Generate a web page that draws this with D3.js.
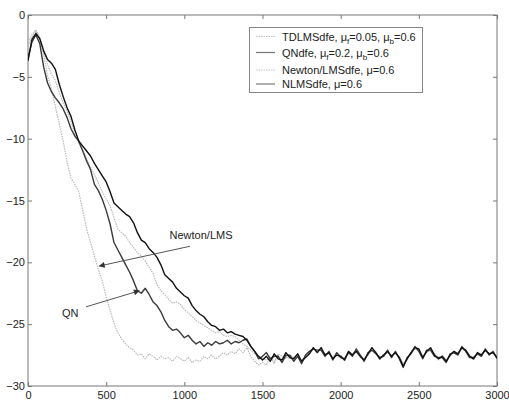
<!DOCTYPE html>
<html><head><meta charset="utf-8">
<script src="https://cdn.jsdelivr.net/npm/d3@7/dist/d3.min.js"></script>
<style>
html,body{margin:0;padding:0;background:#fff;}
svg{display:block;font-family:"Liberation Sans",Arial,sans-serif;}
</style></head>
<body><svg id="c" width="509" height="403"></svg>
<script>
// iteration index of each sample
const iterations = d3.range(0, 3001, 25);
const xTicks = [0, 500, 1000, 1500, 2000, 2500, 3000];
const yTicks = [0, -5, -10, -15, -20, -25, -30];

// Newton/LMSdfe (fastest, light dotted)
const newtonLMS = [
 -2.5,-1.8,-1.3,-2.0,-3.2,-4.9,-6.0,-7.4,-8.8,-10.2,
 -11.9,-13.2,-13.7,-14.3,-15.8,-17.3,-18.4,-19.5,-20.6,-21.5,
 -22.8,-23.9,-24.9,-25.7,-26.2,-26.6,-26.9,-27.1,-27.5,-27.4,
 -27.8,-27.4,-27.6,-27.9,-27.6,-27.8,-27.7,-28.0,-27.6,-27.8,
 -28.0,-27.7,-28.1,-27.9,-28.0,-27.6,-27.8,-27.5,-27.8,-27.6,
 -27.3,-27.5,-27.2,-27.4,-27.0,-27.3,-26.9,-27.6,-28.0,-28.3,
 -28.1,
 -28.3,-27.6,-28.0,-27.5,-27.9,-27.6,-27.8,-27.7,-27.4,-28.0,
 -27.7,-27.4,-27.0,-27.3,-27.1,-27.4,-27.4,-27.7,-27.5,-27.5,
 -28.0,-27.3,-27.4,-27.2,-27.7,-27.8,-27.5,-27.1,-27.2,-27.9,
 -27.4,-27.3,-27.5,-27.4,-27.6,-28.3,-27.9,-27.2,-27.0,-27.2,
 -27.6,-27.3,-27.1,-27.4,-27.9,-27.5,-27.9,-27.6,-27.3,-27.3,
 -27.0,-27.2,-27.5,-27.9,-27.4,-27.4,-27.2,-27.3,-27.4,-27.6
];
// QNdfe (dark grey solid)
const qn = [
 -3.5,-2.2,-1.6,-2.3,-4.2,-5.5,-6.2,-6.7,-7.1,-7.6,
 -8.3,-9.2,-9.8,-10.2,-11.0,-11.8,-12.5,-13.7,-14.2,-14.9,
 -15.8,-16.9,-18.4,-19.0,-19.6,-20.2,-20.8,-21.5,-22.3,-22.5,
 -22.1,-22.6,-23.2,-23.5,-24.0,-24.7,-25.2,-25.5,-25.4,-25.7,
 -26.1,-25.9,-26.3,-26.6,-26.4,-26.8,-26.5,-26.7,-26.4,-26.6,
 -26.5,-26.3,-26.6,-26.4,-26.5,-26.3,-26.2,-26.8,-27.2,-27.8,
 -27.6,
 -27.3,-27.8,-27.6,-27.6,-28.1,-27.5,-27.5,-28.0,-27.6,-28.2,
 -27.5,-27.2,-27.0,-27.1,-27.1,-27.6,-27.2,-27.9,-27.3,-27.7,
 -27.8,-27.3,-27.6,-27.0,-27.5,-28.0,-27.3,-27.1,-27.4,-27.7,
 -27.6,-27.1,-27.7,-27.2,-27.8,-28.5,-27.7,-27.4,-26.8,-27.2,
 -27.8,-27.1,-27.1,-27.6,-27.7,-27.7,-28.1,-27.4,-27.3,-27.5,
 -26.8,-27.2,-27.7,-27.7,-27.4,-27.6,-27.0,-27.5,-27.2,-27.8
];
// TDLMSdfe (light dotted, middle)
const tdlms = [
 -2.2,-1.6,-1.2,-1.8,-2.8,-4.0,-4.8,-5.3,-6.3,-7.1,
 -7.8,-8.6,-9.6,-10.4,-10.9,-11.6,-12.3,-12.9,-13.6,-14.3,
 -14.9,-15.4,-16.4,-17.3,-17.6,-17.9,-18.4,-18.8,-19.2,-19.5,
 -19.9,-20.4,-20.9,-21.8,-22.3,-22.6,-23.0,-23.3,-23.2,-23.4,
 -23.8,-24.1,-24.4,-24.7,-24.9,-25.1,-25.3,-25.5,-25.7,-25.6,
 -25.9,-26.0,-25.9,-26.0,-26.3,-26.6,-26.8,-27.1,-27.4,-27.6,
 -27.8,
 -27.9,-27.7,-28.2,-27.4,-27.6,-27.8,-27.5,-27.7,-27.6,-27.9,
 -27.6,-27.3,-27.0,-27.2,-27.0,-27.4,-27.3,-27.7,-27.3,-27.6,
 -27.8,-27.3,-27.4,-27.1,-27.5,-27.8,-27.5,-27.0,-27.3,-27.7,
 -27.5,-27.3,-27.5,-27.3,-27.6,-28.2,-27.8,-27.4,-27.0,-27.1,
 -27.6,-27.3,-27.0,-27.4,-27.7,-27.6,-27.9,-27.5,-27.3,-27.4,
 -27.0,-27.1,-27.5,-27.7,-27.4,-27.5,-27.1,-27.4,-27.3,-27.6
];
// NLMSdfe (black solid, slowest)
const nlms = [
 -3.7,-2.0,-1.5,-1.9,-2.9,-3.6,-3.9,-4.4,-5.6,-6.6,
 -7.5,-8.2,-9.3,-10.2,-10.6,-11.0,-11.4,-12.0,-12.5,-13.0,
 -13.5,-14.3,-15.2,-15.5,-15.8,-16.1,-16.3,-16.8,-17.6,-18.2,
 -18.4,-18.9,-19.2,-19.6,-20.2,-21.0,-21.3,-21.6,-22.1,-22.4,
 -22.7,-22.9,-23.5,-23.9,-24.2,-24.4,-24.8,-25.1,-25.2,-25.5,
 -25.4,-25.7,-25.6,-25.8,-25.9,-26.0,-26.3,-26.8,-27.2,-27.6,
 -27.9,
 -27.6,-28.0,-27.4,-27.8,-27.9,-27.3,-27.7,-27.8,-27.4,-28.0,
 -27.7,-27.4,-26.9,-27.3,-26.9,-27.5,-27.3,-27.8,-27.5,-27.6,
 -27.9,-27.2,-27.5,-27.2,-27.6,-27.9,-27.4,-26.9,-27.3,-27.8,
 -27.5,-27.2,-27.6,-27.3,-27.7,-28.4,-27.8,-27.3,-26.9,-27.0,
 -27.7,-27.2,-26.9,-27.5,-27.8,-27.6,-28.0,-27.5,-27.2,-27.4,
 -26.9,-27.1,-27.6,-27.8,-27.3,-27.5,-27.1,-27.4,-27.3,-27.7
];

const seriesNames = ["TDLMSdfe", "QNdfe", "Newton/LMSdfe", "NLMSdfe"];

const svg = d3.select("#c");
const m = {l: 28, t: 15, r: 12, b: 17};
const W = 509 - m.l - m.r, H = 403 - m.t - m.b;
const x = d3.scaleLinear().domain([0, 3000]).range([m.l, m.l + W]);
const y = d3.scaleLinear().domain([-30, 0]).range([m.t + H, m.t]);

const styles = {
  "TDLMSdfe": {color: "#b4b4b4", width: 1.1, dash: "1.5,1"},
  "QNdfe": {color: "#3a3a3a", width: 1.4, dash: null},
  "Newton/LMSdfe": {color: "#b4b4b4", width: 1.1, dash: "1.5,1"},
  "NLMSdfe": {color: "#111", width: 1.4, dash: null}
};
const dataMap = {"TDLMSdfe": tdlms, "QNdfe": qn, "Newton/LMSdfe": newtonLMS, "NLMSdfe": nlms};

// plot box
svg.append("rect").attr("x", m.l).attr("y", m.t).attr("width", W).attr("height", H)
  .attr("fill", "#fff").attr("stroke", "#777").attr("stroke-width", 1);

const line = d3.line().x((d, i) => x(iterations[i])).y(d => y(d));
const clip = svg.append("clipPath").attr("id", "pc").append("rect")
  .attr("x", m.l).attr("y", m.t).attr("width", W).attr("height", H);
const g = svg.append("g").attr("clip-path", "url(#pc)");
["Newton/LMSdfe", "TDLMSdfe", "QNdfe", "NLMSdfe"].forEach(n => {
  const s = styles[n];
  g.append("path").datum(dataMap[n]).attr("d", line)
    .attr("fill", "none").attr("stroke", s.color).attr("stroke-width", s.width)
    .attr("stroke-dasharray", s.dash).attr("stroke-linejoin", "round");
});

// axes
function styleAxis(sel) {
  sel.select(".domain").remove();
  sel.selectAll(".tick line").attr("stroke", "#777");
  sel.selectAll(".tick text").attr("fill", "#222").style("font-size", "11px")
    .style("font-family", '"Liberation Sans", Arial, sans-serif');
}
svg.append("g").attr("transform", `translate(0,${m.t + H})`)
  .call(d3.axisBottom(x).tickValues(xTicks).tickSizeInner(-4).tickSizeOuter(0).tickPadding(5).tickFormat(d3.format("d")))
  .call(styleAxis);
svg.append("g").attr("transform", `translate(0,${m.t})`)
  .call(d3.axisTop(x).tickValues(xTicks).tickSizeInner(-4).tickSizeOuter(0).tickFormat(""))
  .call(styleAxis);
svg.append("g").attr("transform", `translate(${m.l},0)`)
  .call(d3.axisLeft(y).tickValues(yTicks).tickSizeInner(-4).tickSizeOuter(0).tickPadding(3).tickFormat(d3.format("d")))
  .call(styleAxis);
svg.append("g").attr("transform", `translate(${m.l + W},0)`)
  .call(d3.axisRight(y).tickValues(yTicks).tickSizeInner(-4).tickSizeOuter(0).tickFormat(""))
  .call(styleAxis);

// legend
const leg = svg.append("g");
leg.append("rect").attr("x", 249.5).attr("y", 27.5).attr("width", 173).attr("height", 65)
  .attr("fill", "#fff").attr("stroke", "#888").attr("stroke-width", 1);
const legendRows = [
  {name: "TDLMSdfe", y: 40.5, parts: [["TDLMSdfe, ", 0], ["μ", 0], ["f", 1], ["=0.05, ", 0], ["μ", 0], ["b", 1], ["=0.6", 0]]},
  {name: "QNdfe", y: 56.5, parts: [["QNdfe, ", 0], ["μ", 0], ["f", 1], ["=0.2, ", 0], ["μ", 0], ["b", 1], ["=0.6", 0]]},
  {name: "Newton/LMSdfe", y: 74, parts: [["Newton/LMSdfe, ", 0], ["μ", 0], ["=0.6", 0]]},
  {name: "NLMSdfe", y: 88, parts: [["NLMSdfe, ", 0], ["μ", 0], ["=0.6", 0]]}
];
legendRows.forEach(r => {
  const s = styles[r.name];
  leg.append("line").attr("x1", 256).attr("x2", 275).attr("y1", r.y - 4).attr("y2", r.y - 4)
    .attr("stroke", s.dash ? "#c4c4c4" : "#777").attr("stroke-width", 1.2)
    .attr("stroke-dasharray", s.dash);
  const t = leg.append("text").attr("x", 282).attr("y", r.y).attr("fill", "#222").style("font-size", "11px");
  r.parts.forEach(p => {
    const ts = t.append("tspan").text(p[0]);
    if (p[1]) ts.attr("dy", 3).style("font-size", "8px");
    else if (t.selectAll("tspan").size() > 1) {
      // reset baseline after subscript
    }
  });
  // fix baselines: after a subscript tspan shift back
  let prevSub = false;
  t.selectAll("tspan").each(function(d, i) {
    const isSub = r.parts[i][1] === 1;
    if (!isSub && prevSub) d3.select(this).attr("dy", -3);
    prevSub = isSub;
  });
});

// annotations (data coordinates)
const annotations = [
  {label: "Newton/LMS", tx: 1107, ty: -18.1, anchor: "middle", from: [1036, -18.7], to: [456, -20.3]},
  {label: "QN", tx: 217, ty: -24.4, anchor: "start", from: [371, -23.6], to: [712, -22.3]}
];
svg.append("defs").append("marker").attr("id", "ah").attr("viewBox", "0 0 10 10")
  .attr("refX", 9).attr("refY", 5).attr("markerWidth", 8).attr("markerHeight", 6)
  .attr("markerUnits", "userSpaceOnUse").attr("orient", "auto")
  .append("path").attr("d", "M0,0 L10,5 L0,10 Z").attr("fill", "#333");
annotations.forEach(a => {
  svg.append("line").attr("x1", x(a.from[0])).attr("y1", y(a.from[1]))
    .attr("x2", x(a.to[0])).attr("y2", y(a.to[1]))
    .attr("stroke", "#555").attr("stroke-width", 1).attr("marker-end", "url(#ah)");
  svg.append("text").attr("x", x(a.tx)).attr("y", y(a.ty)).attr("text-anchor", a.anchor)
    .attr("fill", "#222").style("font-size", "11px").text(a.label);
});
</script></body></html>
